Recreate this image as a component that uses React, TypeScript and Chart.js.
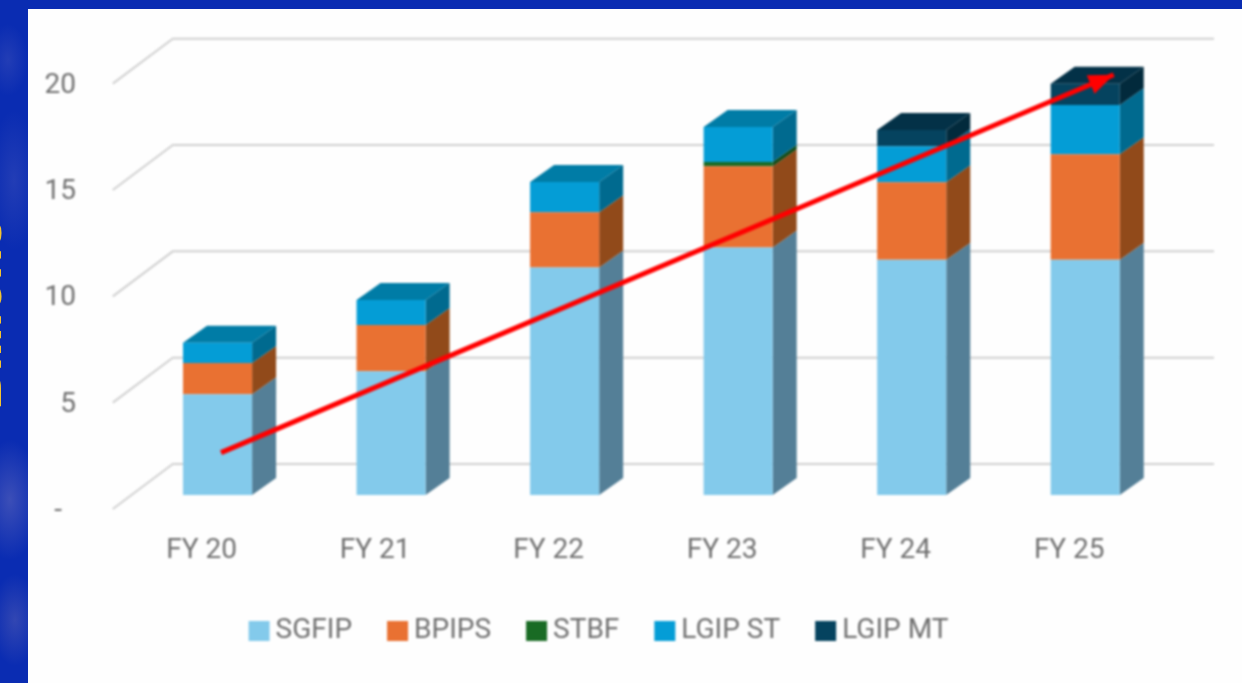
import React, { useEffect, useRef } from "react";
import { Chart, registerables } from "chart.js";

Chart.register(...registerables);

const categories = ["FY 20", "FY 21", "FY 22", "FY 23", "FY 24", "FY 25"];
const sgfip = [4.73, 5.82, 10.69, 11.63, 11.06, 11.06];
const bpips = [1.47, 2.17, 2.6, 3.83, 3.64, 4.96];
const stbf = [0, 0, 0, 0.19, 0, 0];
const lgipSt = [0.95, 1.18, 1.42, 1.65, 1.7, 2.32];
const lgipMt = [0, 0, 0, 0, 0.76, 0.99];
const seriesNames = ["SGFIP", "BPIPS", "STBF", "LGIP ST", "LGIP MT"];
const seriesValues = [sgfip, bpips, stbf, lgipSt, lgipMt];
const trendX = [0.02, 5.164];
const trendY = [1.99, 19.76];

const frontColors = ["#83CAEB", "#E97132", "#196B24", "#049DD6", "#05435F"];
const sideColors = ["#547F97", "#914A1A", "#0F4A15", "#006A8F", "#022A3C"];
const topColors = ["#6AA5C0", "#B25A22", "#125019", "#007CA6", "#033147"];

const FONT = "Roboto, 'Liberation Sans', sans-serif";
const TEXT = "#707070";
const PX_PER_UNIT = 21.15;
const AREA_TOP = 73;
const AREA_BOTTOM = 508;
const BAR_ZERO = 494;
const BAR_DX = 24;
const BAR_DY = 17;
const WALL_DX = 60;
const WALL_DY = 45;
const GRID_RIGHT = 1214;

const polygon = (ctx: any, pts: number[][], color: string) => {
  ctx.fillStyle = color;
  ctx.beginPath();
  pts.forEach((p, i) => (i ? ctx.lineTo(p[0], p[1]) : ctx.moveTo(p[0], p[1])));
  ctx.closePath();
  ctx.fill();
};

const depthPlugin = {
  id: "depth",
  beforeDatasetsDraw(chart: any) {
    const { ctx, scales } = chart;
    const wall = scales.yWall;
    const left = scales.x.left;
    ctx.save();
    ctx.strokeStyle = "#D0D0D0";
    ctx.lineWidth = 2;
    wall.ticks.forEach((t: any) => {
      const y = wall.getPixelForValue(t.value);
      ctx.beginPath();
      ctx.moveTo(left - 18, y);
      ctx.lineTo(left - 18 + WALL_DX, y - WALL_DY);
      ctx.lineTo(GRID_RIGHT, y - WALL_DY);
      ctx.stroke();
    });
    categories.forEach((_, i) => {
      let topIdx = -1;
      seriesValues.forEach((values, s) => {
        if (values[i] > 0) topIdx = s;
      });
      seriesValues.forEach((values, s) => {
        if (!(values[i] > 0)) return;
        const meta = chart.getDatasetMeta(s + 1);
        const { x, y, base, width } = meta.data[i].getProps(["x", "y", "base", "width"], true);
        const r = x + width / 2;
        const l = x - width / 2;
        polygon(ctx, [[r, y], [r + BAR_DX, y - BAR_DY], [r + BAR_DX, base - BAR_DY], [r, base]], sideColors[s]);
        if (s === topIdx) {
          polygon(ctx, [[l, y], [l + BAR_DX, y - BAR_DY], [r + BAR_DX, y - BAR_DY], [r, y]], topColors[s]);
        }
      });
    });
    ctx.restore();
  },
  afterDatasetsDraw(chart: any) {
    const { ctx } = chart;
    const pts = chart.getDatasetMeta(0).data;
    const a = pts[0];
    const b = pts[pts.length - 1];
    const ang = Math.atan2(b.y - a.y, b.x - a.x);
    const len = 25;
    const half = 10;
    const bx = b.x - Math.cos(ang) * len;
    const by = b.y - Math.sin(ang) * len;
    ctx.save();
    polygon(
      ctx,
      [
        [b.x, b.y],
        [bx - Math.sin(ang) * half, by + Math.cos(ang) * half],
        [bx + Math.sin(ang) * half, by - Math.cos(ang) * half],
      ],
      "#FF0000"
    );
    ctx.restore();
  },
};

export default function App() {
  const ref = useRef<HTMLCanvasElement>(null);
  useEffect(() => {
    if (!ref.current) return;
    const barMin = (BAR_ZERO - AREA_BOTTOM) / PX_PER_UNIT;
    const barMax = (BAR_ZERO - AREA_TOP) / PX_PER_UNIT;
    const wallMax = (AREA_BOTTOM - AREA_TOP) / PX_PER_UNIT;
    const chart = new Chart(ref.current, {
      type: "bar",
      plugins: [depthPlugin],
      data: {
        labels: categories,
        datasets: [
          {
            type: "line",
            label: "Trend",
            parsing: false,
            data: trendX.map((x, i) => ({ x, y: trendY[i] })),
            borderColor: "#FF0000",
            borderWidth: 5,
            pointRadius: 0,
            yAxisID: "y",
            clip: false,
            order: -1,
          } as any,
          ...seriesNames.map((label, s) => ({
            label,
            data: seriesValues[s],
            backgroundColor: frontColors[s],
            stack: "total",
            yAxisID: "y",
            barPercentage: 0.398,
            categoryPercentage: 1,
            borderWidth: 0,
          })),
        ],
      },
      options: {
        responsive: false,
        animation: false,
        layout: { autoPadding: false, padding: { left: 0, right: 37, top: 6, bottom: 28 } },
        plugins: {
          tooltip: { enabled: false },
          legend: {
            position: "bottom",
            labels: {
              font: { family: FONT, size: 28 },
              color: TEXT,
              boxWidth: 5,
              boxHeight: 4,
              padding: 43,
              generateLabels: () =>
                seriesNames.map((text, s) => ({
                  text,
                  datasetIndex: s + 1,
                  fillStyle: frontColors[s],
                  strokeStyle: frontColors[s],
                  lineWidth: 16,
                  fontColor: TEXT,
                  hidden: false,
                })),
            },
          },
        },
        scales: {
          x: {
            stacked: true,
            grid: { display: false, drawTicks: false },
            border: { display: false },
            afterFit: (s: any) => {
              s.height = 65;
            },
            ticks: {
              font: { family: FONT, size: 28 },
              color: TEXT,
              padding: 25,
              labelOffset: -16,
              maxRotation: 0,
              autoSkip: false,
            },
          },
          y: {
            stacked: true,
            position: "right",
            min: barMin,
            max: barMax,
            grid: { display: false, drawTicks: false },
            border: { display: false },
            ticks: { display: false },
            afterFit: (s: any) => {
              s.width = 33;
            },
          },
          yWall: {
            position: "left",
            min: 0,
            max: wallMax,
            grid: { display: false, drawTicks: false },
            border: { display: false },
            afterFit: (s: any) => {
              s.width = 130.8;
            },
            ticks: {
              stepSize: 5,
              includeBounds: false,
              padding: 54.8,
              labelOffset: 2,
              font: { family: FONT, size: 28 },
              color: TEXT,
              callback: (v: any) => (v === 0 ? "-  " : String(v)),
            },
          },
        },
      },
    } as any);
    return () => chart.destroy();
  }, []);

  return (
    <div
      style={{
        position: "fixed",
        inset: 0,
        overflow: "hidden",
        backgroundColor: "#0A2CB2",
        backgroundImage:
          "radial-gradient(ellipse 30px 60px at 10px 500px, rgba(120,120,190,0.45), transparent)," +
          "radial-gradient(ellipse 24px 46px at 15px 620px, rgba(110,110,180,0.4), transparent)," +
          "radial-gradient(ellipse 24px 70px at 14px 180px, rgba(90,100,190,0.3), transparent)," +
          "radial-gradient(ellipse 20px 36px at 8px 60px, rgba(90,100,190,0.3), transparent)",
      }}
    >
      <div
        style={{
          position: "absolute",
          left: 9,
          top: 314,
          transformOrigin: "0 0",
          transform: "rotate(-90deg) translate(-50%, -100%)",
          font: "bold 53px 'Liberation Sans', sans-serif",
          lineHeight: 1,
          color: "#F4C430",
          whiteSpace: "nowrap",
        }}
      >
        Billions
      </div>
      <div style={{ position: "absolute", left: 28, top: 9, right: 0, bottom: 0, background: "#FEFEFE" }} />
      <canvas
        ref={ref}
        width={1242}
        height={683}
        style={{ position: "absolute", left: 0, top: 0, width: 1242, height: 683, filter: "blur(1px)" }}
      />
    </div>
  );
}
